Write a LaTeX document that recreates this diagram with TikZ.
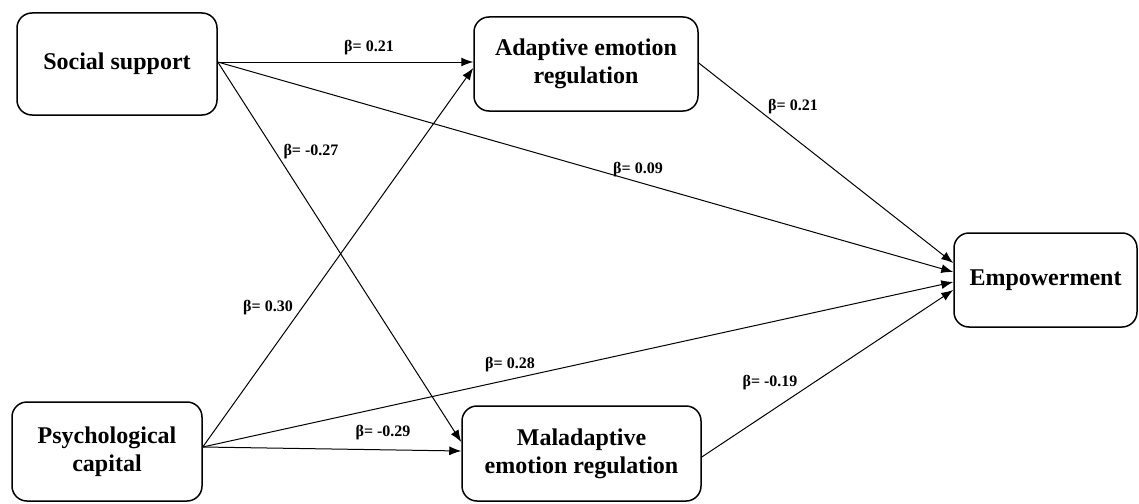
\documentclass[tikz,border=0pt]{standalone}
\usepackage{fontspec}
\setmainfont{Liberation Serif}
\usetikzlibrary{arrows.meta,calc}
\tikzset{
  box/.style={draw, line width=1.5pt, rounded corners=15pt, align=center, inner sep=0pt,
    font=\fontsize{24}{28}\selectfont\bfseries},
  path/.style={line width=1pt, -{Latex[length=12pt,width=9pt]}},
  coef/.style={font=\fontsize{16}{18}\selectfont\bfseries, inner sep=0pt}
}
\begin{document}
\begin{tikzpicture}[x=1pt,y=-1pt]
\useasboundingbox (0,0) rectangle (1139,503);
\node[box, minimum width=200pt, minimum height=102pt] (ss) at (117,64) {Social support};
\node[box, minimum width=224pt, minimum height=94pt] (ad) at (586,64) {Adaptive emotion\\regulation};
\node[box, minimum width=183pt, minimum height=94pt] (emp) at (1045.5,280) {Empowerment};
\node[box, minimum width=190pt, minimum height=99pt] (pc) at (107,451.5) {Psychological\\capital};
\node[box, minimum width=239pt, minimum height=95pt] (mal) at (581.5,453.5) {Maladaptive\\emotion regulation};

\coordinate (ssout) at ($(ss.east)+(0,-2)$);
\coordinate (pcout) at ($(pc.east)+(0,-4.5)$);
\coordinate (adout) at ($(ad.east)+(0,-1)$);
\coordinate (malout) at ($(mal.east)+(0,3.5)$);

\draw[path] (ssout) -- ($(ad.west)+(0,-2)$);
\draw[path] (pcout) -- ($(ad.west)+(0,4)$);
\draw[path] (ssout) -- ($(emp.west)+(0,-8)$);
\draw[path] (ssout) -- ($(mal.west)+(0,-11.5)$);
\draw[path] (pcout) -- ($(mal.west)+(0,-2.5)$);
\draw[path] (pcout) -- ($(emp.west)+(0,2)$);
\draw[path] (adout) -- ($(emp.west)+(0,-17)$);
\draw[path] (malout) -- ($(emp.west)+(0,10)$);

\node[coef] (l1) at (369,48) {β= 0.21};
\node[coef] (l2) at (311,152) {β= -0.27};
\node[coef] (l3) at (268,308) {β= 0.30};
\node[coef] (l4) at (638,170) {β= 0.09};
\node[coef] (l5) at (510,365) {β= 0.28};
\node[coef] (l6) at (793,107) {β= 0.21};
\node[coef] (l7) at (770,383) {β= -0.19};
\node[coef] (l8) at (383,433) {β= -0.29};
\end{tikzpicture}
\end{document}
